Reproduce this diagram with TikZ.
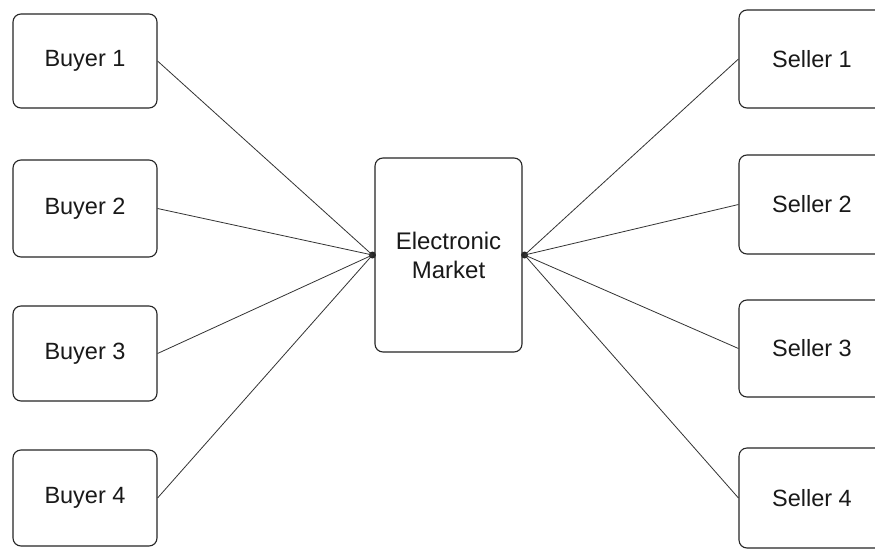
\documentclass[tikz,border=0pt]{standalone}
\usepackage{fontspec}
\setmainfont{Liberation Sans}
\begin{document}
\begin{tikzpicture}[x=1pt,y=-1pt,
  party/.style={draw=black!85, line width=1.1pt, rounded corners=8pt,
    minimum width=144pt, minimum height=96pt, inner sep=0pt,
    font=\fontsize{23.5}{28}\selectfont, text=black!90},
  market/.style={party, minimum width=147pt, minimum height=194pt, align=center,
    font=\fontsize{24}{29}\selectfont},
  link/.style={draw=black!80, line width=0.8pt},
  joint/.style={circle, fill=black!85, inner sep=0pt, minimum size=7pt}]
  \clip (0,0) rectangle (875,549);
  \fill[white] (0,0) rectangle (875,549);

  % buyers on the left
  \node[party, minimum height=94pt] (b1) at (85,61)    {Buyer 1};
  \node[party, minimum height=97pt] (b2) at (85,208.5) {Buyer 2};
  \node[party, minimum height=95pt] (b3) at (85,353.5) {Buyer 3};
  \node[party]                      (b4) at (85,498)   {Buyer 4};

  % the market in the middle
  \node[market] (m) at (448.5,255) {Electronic\\Market};

  % sellers on the right
  \node[party, minimum width=146pt, minimum height=98pt] (s1) at (812,59)    {Seller 1};
  \node[party, minimum width=146pt, minimum height=99pt] (s2) at (812,204.5) {Seller 2};
  \node[party, minimum width=146pt, minimum height=97pt] (s3) at (812,348.5) {Seller 3};
  \node[party, minimum width=146pt, minimum height=100pt] (s4) at (812,498)  {Seller 4};

  % junction points on the market box
  \node[joint] (jl) at ([xshift=-2pt]m.west) {};
  \node[joint] (jr) at ([xshift=2pt]m.east) {};

  \foreach \b in {b1,b2,b3,b4} \draw[link] (\b.east) -- (jl.center);
  \foreach \s in {s1,s2,s3,s4} \draw[link] (jr.center) -- (\s.west);
\end{tikzpicture}
\end{document}
